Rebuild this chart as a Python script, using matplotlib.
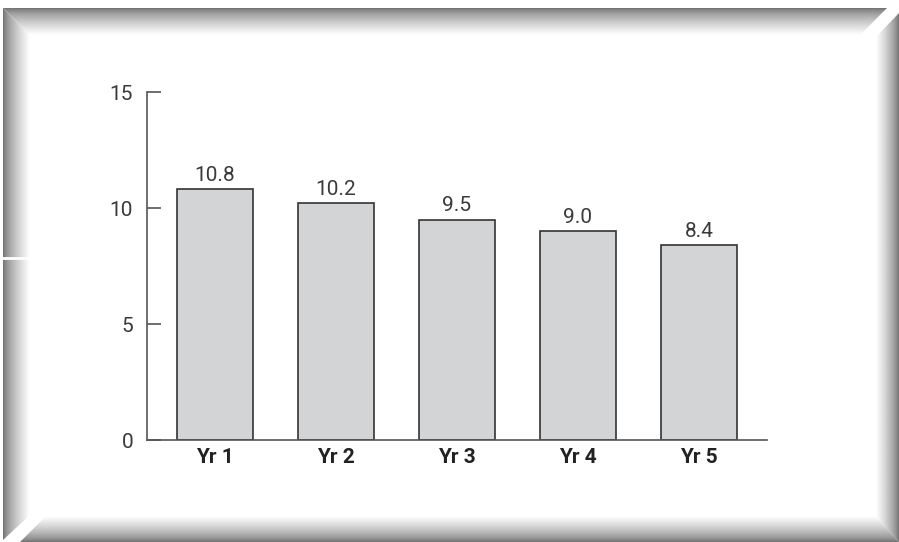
"""Bar chart of yearly values inside a bevelled frame."""

import matplotlib

matplotlib.use("Agg")
import matplotlib.pyplot as plt  # type: ignore
import numpy as np
from matplotlib.patches import Polygon

years = ["Yr 1", "Yr 2", "Yr 3", "Yr 4", "Yr 5"]
values = [10.8, 10.2, 9.5, 9.0, 8.4]
y_ticks = [0, 5, 10, 15]

W, H = 899, 542
plt.rcParams["font.family"] = ["Roboto", "DejaVu Sans"]

fig = plt.figure(figsize=(W / 100, H / 100), dpi=100)

# bevelled frame, drawn in pixel coordinates
frame = fig.add_axes([0, 0, 1, 1], zorder=0)
frame.set_xlim(0, W)
frame.set_ylim(H, 0)
frame.axis("off")

ramp = np.linspace(0.0, 1.0, 64)
dark = 0.44


def band(poly, extent, horizontal, reverse):
    g = dark + (1 - dark) * ramp ** 0.7
    if reverse:
        g = g[::-1]
    img = g[None, :] if horizontal else g[:, None]
    im = frame.imshow(img, cmap="gray", vmin=0, vmax=1, extent=extent,
                      aspect="auto", interpolation="bilinear")
    p = Polygon(poly, closed=True, transform=frame.transData)
    im.set_clip_path(p)


# top band: dark at top
band([(3, 8), (887, 8), (860, 35), (30, 35)], (3, 887, 35, 8), False, False)
# left band: dark at left
band([(3, 8), (30, 35), (30, 515), (3, 540)], (3, 30, 540, 8), True, False)
# right band: dark at right
band([(899, 13), (876, 37), (876, 516), (899, 542)], (876, 899, 542, 13), True, True)
# bottom band: dark at bottom
band([(20, 542), (46, 516), (876, 516), (899, 542)], (20, 899, 542, 516), False, True)
frame.plot([3, 30], [258, 258], color="white", lw=2)

# chart area
ax = fig.add_axes([147 / W, 102 / H, (767 - 147) / W, (440 - 92) / H], zorder=1)
ax.patch.set_alpha(0)
x = np.arange(len(years))
bars = ax.bar(x, values, width=0.63, color="#d3d4d6", edgecolor="#333333",
              linewidth=1.2, zorder=2)
for rect, v in zip(bars, values):
    ax.annotate(f"{v:.1f}", (rect.get_x() + rect.get_width() / 2, v),
                xytext=(0, 3), textcoords="offset points", ha="center",
                va="bottom", fontsize=15, color="#3a3a3a")

ax.set_xlim(-0.562, 4.562)
ax.set_ylim(0, 15)
ax.set_yticks(y_ticks)
ax.set_xticks(x)
ax.set_xticklabels(years, fontsize=15, fontweight="bold", color="#222222")
for s in ("top", "right"):
    ax.spines[s].set_visible(False)
for s in ("left", "bottom"):
    ax.spines[s].set_color("#555555")
    ax.spines[s].set_linewidth(1.2)
ax.tick_params(axis="y", direction="in", length=10, width=1.2, color="#555555",
               pad=10, labelsize=15, labelcolor="#3a3a3a")
ax.tick_params(axis="x", length=0, pad=6)

plt.savefig("out.png", dpi=100)
